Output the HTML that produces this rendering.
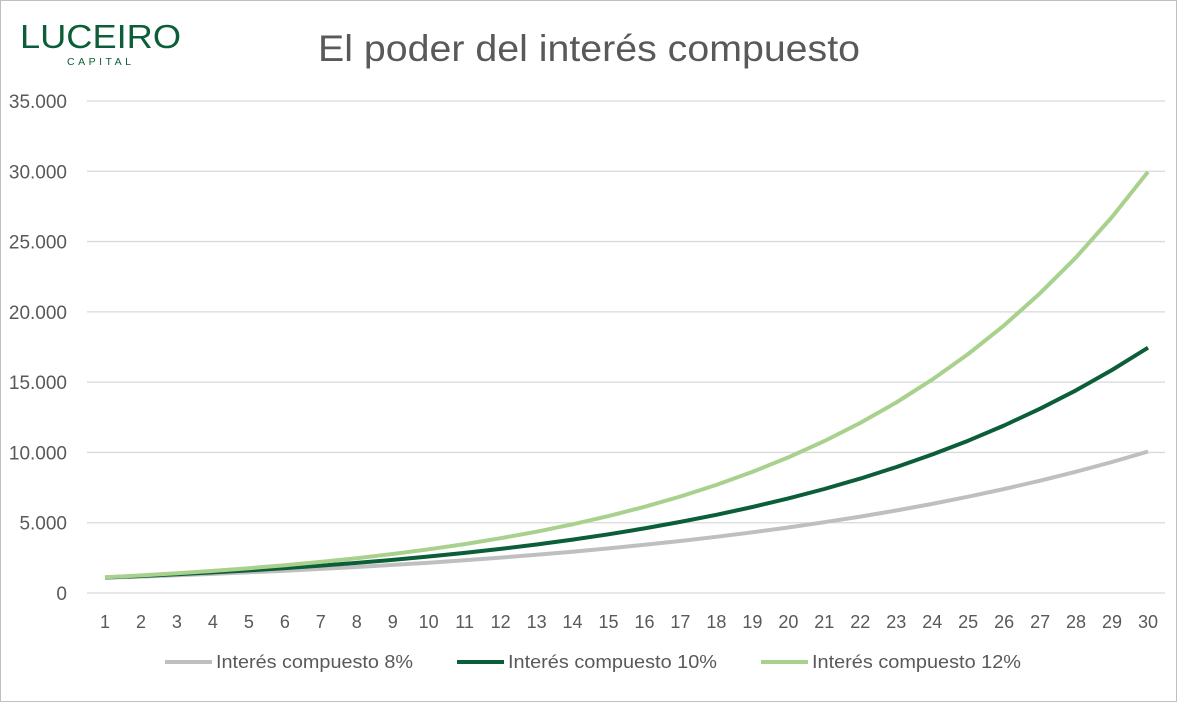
<!DOCTYPE html>
<html><head><meta charset="utf-8"><style>
body{margin:0;background:#fff;}
svg{display:block;font-family:"Liberation Sans",sans-serif;}
</style></head><body>
<svg id="c" width="1182" height="703" viewBox="0 0 1182 703">
<rect x="0.5" y="0.5" width="1176" height="701" fill="#fff" stroke="#bfbfbf"/>
<text x="20" y="48" font-size="33" fill="#0b5e38" textLength="161" lengthAdjust="spacingAndGlyphs">LUCEIRO</text>
<text x="67" y="65" font-size="10.5" fill="#0b5e38" textLength="64" lengthAdjust="spacing">CAPITAL</text>
<text x="318" y="61" font-size="37" fill="#595959" textLength="542" lengthAdjust="spacingAndGlyphs">El poder del interés compuesto</text>
<g id="grid"></g>
<g id="series" fill="none" stroke-width="4" stroke-linejoin="round"></g>
<g font-size="18" fill="#595959">
<line x1="165" y1="662" x2="212" y2="662" stroke="#bfbfbf" stroke-width="4"/>
<text x="216" y="668" textLength="197" lengthAdjust="spacingAndGlyphs">Interés compuesto 8%</text>
<line x1="457" y1="662" x2="504" y2="662" stroke="#0b5e38" stroke-width="4"/>
<text x="508" y="668" textLength="209" lengthAdjust="spacingAndGlyphs">Interés compuesto 10%</text>
<line x1="761" y1="662" x2="808" y2="662" stroke="#a9d18e" stroke-width="4"/>
<text x="812" y="668" textLength="209" lengthAdjust="spacingAndGlyphs">Interés compuesto 12%</text>
</g>
</svg>
<script>
var ns="http://www.w3.org/2000/svg",g=document.getElementById("grid"),s=document.getElementById("series");
function el(p,t,a,txt){var e=document.createElementNS(ns,t);for(var k in a)e.setAttribute(k,a[k]);if(txt)e.textContent=txt;p.appendChild(e);return e;}
var y0=593,k=492/35000,x0=105,dx=1043/29;
var labs=["0","5.000","10.000","15.000","20.000","25.000","30.000","35.000"];
for(var i=0;i<8;i++){var y=y0-i*5000*k;
 el(g,"line",{x1:87,x2:1165,y1:y,y2:y,stroke:"#d9d9d9","stroke-width":1.3});
 el(g,"text",{x:67,y:y+7,"font-size":19,fill:"#595959","text-anchor":"end"},labs[i]);}
for(var n=1;n<=30;n++)el(g,"text",{x:x0+(n-1)*dx,y:628,"font-size":18,fill:"#595959","text-anchor":"middle"},""+n);
[[1.08,"#bfbfbf"],[1.10,"#0b5e38"],[1.12,"#a9d18e"]].forEach(function(r){
 var d="";for(var n=1;n<=30;n++){var v=1000*Math.pow(r[0],n);d+=(n==1?"M":"L")+(x0+(n-1)*dx).toFixed(1)+","+(y0-v*k).toFixed(1);}
 el(s,"path",{d:d,stroke:r[1]});});
</script>
</body></html>
